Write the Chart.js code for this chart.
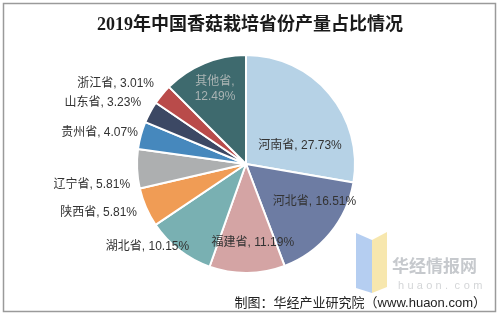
<!DOCTYPE html>
<html>
<head>
<meta charset="utf-8">
<script src="https://cdn.jsdelivr.net/npm/chart.js@4.4.0/dist/chart.umd.min.js"></script>
<style>
  html, body { margin: 0; padding: 0; background: #fff; }
  canvas { display: block; }
</style>
</head>
<body>
<canvas id="myChart" width="500" height="314"></canvas>
<script>
// data
const provinces = ['河南省', '河北省', '福建省', '湖北省', '陕西省', '辽宁省', '贵州省', '山东省', '浙江省', '其他省'];
const shares = [27.73, 16.51, 11.19, 10.15, 5.81, 5.81, 4.07, 3.23, 3.01, 12.49];

const sliceColors = ['#b6d2e6', '#6d7ca3', '#d4a4a4', '#79b0b2', '#f09c55', '#adafb0', '#4688bd', '#3c4864', '#b94b4a', '#3e6a6e'];

// label placement: inside the slice or left of it, with small nudges
const labelLayout = [
  { inside: true, dx: -6, dy: 32 },
  { inside: true, dx: 8, dy: -12 },
  { inside: true, dx: 6, dy: 0 },
  { inside: false, dx: 14, dy: -3 },
  { inside: false, dx: -5, dy: 5 },
  { inside: false, dx: -3, dy: 16 },
  { inside: false, dx: 1, dy: -3 },
  { inside: false, dx: -5, dy: -9 },
  { inside: false, dx: -4, dy: -11 },
  { inside: true, dx: -1, dy: -2, wrap: true, color: '#a9b3b3' }
];

const labelFont = "12px 'Liberation Sans', 'Noto Sans CJK SC', sans-serif";

const framePlugin = {
  id: 'frame',
  beforeDraw(chart) {
    const ctx = chart.ctx;
    ctx.save();
    ctx.fillStyle = '#fff';
    ctx.fillRect(0, 0, chart.width, chart.height);
    ctx.strokeStyle = '#9a9a9a';
    ctx.lineWidth = 1.5;
    ctx.strokeRect(3.5, 3.5, 492, 308);

    // title
    ctx.fillStyle = '#1a1a1a';
    ctx.font = "bold 18px 'Liberation Serif', 'Noto Sans CJK SC', serif";
    ctx.textAlign = 'center';
    ctx.textBaseline = 'middle';
    ctx.fillText('2019年中国香菇栽培省份产量占比情况', 250, 25);

    // watermark logo
    ctx.globalAlpha = 0.85;
    ctx.fillStyle = '#a8c6ee';
    ctx.beginPath();
    ctx.moveTo(356, 233);
    ctx.lineTo(372, 240);
    ctx.lineTo(372, 293);
    ctx.lineTo(356, 288);
    ctx.closePath();
    ctx.fill();
    ctx.fillStyle = '#f6e3a0';
    ctx.beginPath();
    ctx.moveTo(372, 240);
    ctx.lineTo(387, 232);
    ctx.lineTo(387, 287);
    ctx.lineTo(372, 293);
    ctx.closePath();
    ctx.fill();
    ctx.globalAlpha = 1;
    ctx.fillStyle = '#c6c9cd';
    ctx.font = "bold 17px 'Noto Sans CJK SC', sans-serif";
    ctx.textAlign = 'left';
    ctx.fillText('华经情报网', 392, 266);
    ctx.fillStyle = '#d4d6d8';
    ctx.font = "11px 'Liberation Sans', sans-serif";
    const letters = 'huaon.com';
    for (let i = 0; i < letters.length; i++) {
      ctx.fillText(letters[i], 398 + i * 9.4, 286);
    }
    ctx.restore();
  },
  afterDraw(chart) {
    const ctx = chart.ctx;
    ctx.save();
    ctx.fillStyle = '#222';
    ctx.font = "13px 'Liberation Sans', 'Noto Sans CJK SC', sans-serif";
    ctx.textAlign = 'right';
    ctx.textBaseline = 'middle';
    ctx.fillText('制图：华经产业研究院（www.huaon.com）', 486, 303);
    ctx.restore();
  }
};

const labelPlugin = {
  id: 'sliceLabels',
  afterDatasetsDraw(chart) {
    const ctx = chart.ctx;
    const arcs = chart.getDatasetMeta(0).data;
    ctx.save();
    ctx.font = labelFont;
    ctx.textBaseline = 'middle';
    arcs.forEach((arc, i) => {
      const p = arc.getProps(['x', 'y', 'startAngle', 'endAngle', 'outerRadius'], true);
      const mid = (p.startAngle + p.endAngle) / 2;
      const lay = labelLayout[i];
      const txt = provinces[i] + ', ' + shares[i].toFixed(2) + '%';
      ctx.fillStyle = lay.color || '#333';
      if (lay.inside) {
        const r = p.outerRadius * 0.72;
        const x = p.x + Math.cos(mid) * r + lay.dx;
        const y = p.y + Math.sin(mid) * r + lay.dy;
        ctx.textAlign = 'center';
        if (lay.wrap) {
          ctx.fillText(provinces[i] + ',', x, y - 8);
          ctx.fillText(shares[i].toFixed(2) + '%', x, y + 7);
        } else {
          ctx.fillText(txt, x, y);
        }
      } else {
        const x = p.x + Math.cos(mid) * p.outerRadius - 4 + lay.dx;
        const y = p.y + Math.sin(mid) * p.outerRadius + lay.dy;
        ctx.textAlign = 'right';
        ctx.fillText(txt, x, y);
      }
    });
    ctx.restore();
  }
};

const ctx = document.getElementById('myChart').getContext('2d');
const myChart = new Chart(ctx, {
  type: 'pie',
  data: {
    labels: provinces,
    datasets: [{
      data: shares,
      backgroundColor: sliceColors,
      borderColor: '#ffffff',
      borderWidth: 2
    }]
  },
  options: {
    responsive: false,
    animation: false,
    devicePixelRatio: 1,
    layout: {
      padding: { left: 136, right: 144, top: 54, bottom: 40 }
    },
    plugins: {
      legend: { display: false },
      title: { display: false },
      tooltip: { enabled: false }
    }
  },
  plugins: [framePlugin, labelPlugin]
});
</script>
</body>
</html>
